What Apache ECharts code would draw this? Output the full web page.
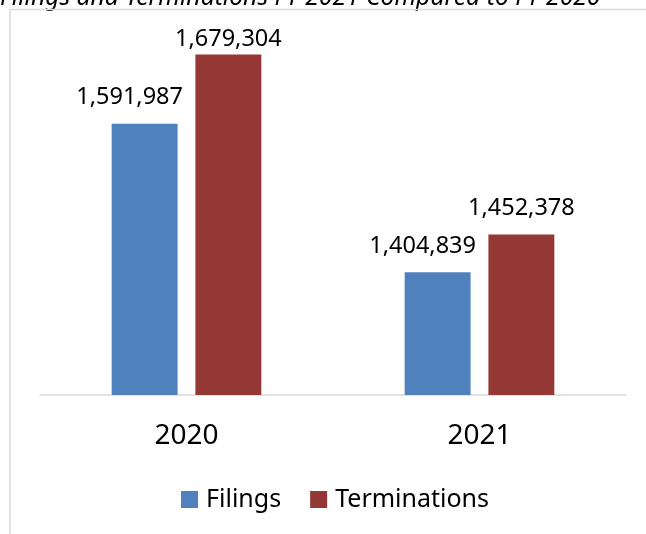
<!DOCTYPE html>
<html>
<head>
<meta charset="utf-8">
<script src="https://cdn.jsdelivr.net/npm/echarts@6/dist/echarts.min.js"></script>
<style>
    html, body { margin: 0; padding: 0; background: #fff; }
    #chart { width: 646px; height: 534px; }
</style>
</head>
<body>
<div id="chart"></div>
<script>
// 数据
const years = ['2020', '2021'];
const filings = [1591987, 1404839];
const terminations = [1679304, 1452378];
const seriesNames = ['Filings', 'Terminations'];

const chart = echarts.init(document.getElementById('chart'));
const font = '"Noto Sans", "Open Sans", sans-serif';

const labelStyle = {
    show: true,
    position: 'top',
    distance: 14,
    fontFamily: font,
    fontSize: 23.5,
    color: '#000',
    formatter: p => p.value.toLocaleString('en-US')
};

// 2020 的 Terminations 标签贴近图顶，间距较小
const terminationsData = terminations.map((v, i) => (
    i === 0 ? { value: v, label: { distance: 3 } } : v
));

const option = {
    animation: false,
    backgroundColor: '#fff',
    textStyle: { fontFamily: font },
    graphic: [
        {
            // 标题（上半部分被裁掉）
            type: 'text',
            left: 0,
            top: -15,
            style: {
                text: 'Filings and Terminations FY 2021 Compared to FY 2020',
                fontFamily: font,
                fontStyle: 'italic',
                fontSize: 24.7,
                fill: '#000'
            }
        },
        {
            type: 'polyline',
            shape: { points: [[10, 534], [10, 9.5], [646, 9.5]] },
            style: { stroke: '#d9d9d9', lineWidth: 1.5, fill: null }
        }
    ],
    legend: {
        data: seriesNames,
        left: 181,
        top: 487,
        padding: 0,
        icon: 'rect',
        itemWidth: 17,
        itemHeight: 17,
        itemGap: 29,
        textStyle: { fontFamily: font, fontSize: 25, color: '#000', padding: [0, 0, 0, 3] }
    },
    grid: {
        left: 40,
        right: 20,
        top: 38,
        bottom: 139
    },
    xAxis: {
        type: 'category',
        data: years,
        axisLine: { lineStyle: { color: '#d9d9d9', width: 1.5 } },
        axisTick: { show: false },
        axisLabel: { fontFamily: font, fontSize: 28, color: '#000', margin: 27 }
    },
    yAxis: {
        type: 'value',
        min: 1250000,
        max: 1700000,
        show: false,
        splitLine: { show: false }
    },
    series: [
        {
            name: 'Filings',
            type: 'bar',
            data: filings,
            barWidth: '22.5%',
            barGap: '27%',
            itemStyle: { color: '#4f81bd' },
            label: Object.assign({}, labelStyle, { offset: [-15, 0] })
        },
        {
            name: 'Terminations',
            type: 'bar',
            data: terminationsData,
            barWidth: '22.5%',
            itemStyle: { color: '#953735' },
            label: labelStyle
        }
    ]
};

chart.setOption(option);
</script>
</body>
</html>
